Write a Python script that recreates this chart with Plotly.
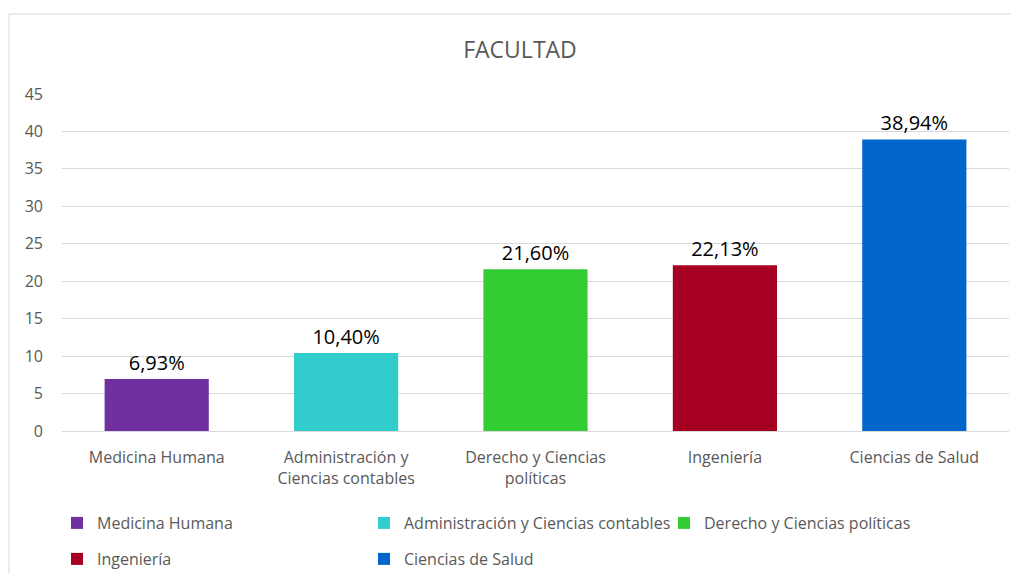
import plotly.graph_objects as go

categories = ["Medicina Humana", "Administración y Ciencias contables", "Derecho y Ciencias políticas", "Ingeniería", "Ciencias de Salud"]
tick_labels = ["Medicina Humana", "Administración y<br>Ciencias contables", "Derecho y Ciencias<br>políticas", "Ingeniería", "Ciencias de Salud"]
values = [6.93, 10.40, 21.60, 22.13, 38.94]
colors = ["#7030A0", "#33CCCC", "#33CC33", "#A50021", "#0066CC"]

# the page body has an 8px margin: design in reference pixel coords minus OFF
OFF = 8
W, H = 1019 - 2 * OFF, 581 - 2 * OFF
plot_left, plot_right, plot_top, plot_bottom = 62, 1009, 94, 431  # reference pixels
L = plot_left - OFF
R = W - (plot_right - OFF)
T = plot_top - OFF
B = H - (plot_bottom - OFF)
pw, ph = W - L - R, H - T - B

def px_x(p):
    return (p - OFF - L) / pw

def px_y(p):
    return (H - B - (p - OFF)) / ph

legend_names = ["legend", "legend2", "legend3", "legend4", "legend5"]
legend_pos = [(73, 523), (380, 523), (680, 523), (73, 559), (380, 559)]

fig = go.Figure()
for i, (cat, v, c) in enumerate(zip(categories, values, colors)):
    fig.add_trace(go.Bar(
        x=[i], y=[v], name=cat, marker=dict(color=c, line=dict(width=0)),
        width=0.55, showlegend=True,
        texttemplate="%{y:.2f}%", textposition="outside",
        textfont=dict(size=20, color="#000000"), cliponaxis=False,
        legend=legend_names[i],
    ))

font_family = "Open Sans, Lato, sans-serif"
layout_legends = {}
for name, (lx, ly) in zip(legend_names, legend_pos):
    layout_legends[name] = dict(
        orientation="h", x=px_x(lx - 16), y=px_y(ly), xanchor="left", yanchor="middle",
        font=dict(size=16, color="#595959", family=font_family), bgcolor="rgba(0,0,0,0)",
        itemwidth=30, visible=True,
    )

fig.update_layout(
    width=W, height=H,
    margin=dict(l=L, r=R, t=T, b=B, autoexpand=False),
    paper_bgcolor="white", plot_bgcolor="white",
    separators=",.",
    barmode="overlay",
    showlegend=True,
    font=dict(family=font_family, size=16, color="#595959"),
    title=dict(text="FACULTAD", x=px_x(520), xanchor="center", xref="paper",
               y=1 - (50 - OFF) / H, yanchor="middle",
               font=dict(size=23, color="#595959", family=font_family)),
    xaxis=dict(tickmode="array", tickvals=list(range(len(categories))), ticktext=tick_labels,
               range=[-0.5, len(categories) - 0.5], showgrid=False, zeroline=False,
               showline=True, linecolor="#D9D9D9", linewidth=1, ticks="",
               ticklabelstandoff=12,
               tickfont=dict(size=16, color="#595959")),
    yaxis=dict(range=[0, 45], dtick=5, showgrid=True, gridcolor="#D9D9D9", gridwidth=1,
               zeroline=False, showline=False, ticks="", ticklabelstandoff=18,
               tickfont=dict(size=16, color="#595959")),
    shapes=[dict(type="rect", xref="paper", yref="paper",
                 x0=px_x(9), x1=px_x(1040), y0=px_y(620), y1=px_y(14),
                 line=dict(color="#D9D9D9", width=1), fillcolor="rgba(0,0,0,0)", layer="below")],
    **layout_legends,
)

fig.write_html("out.html")
